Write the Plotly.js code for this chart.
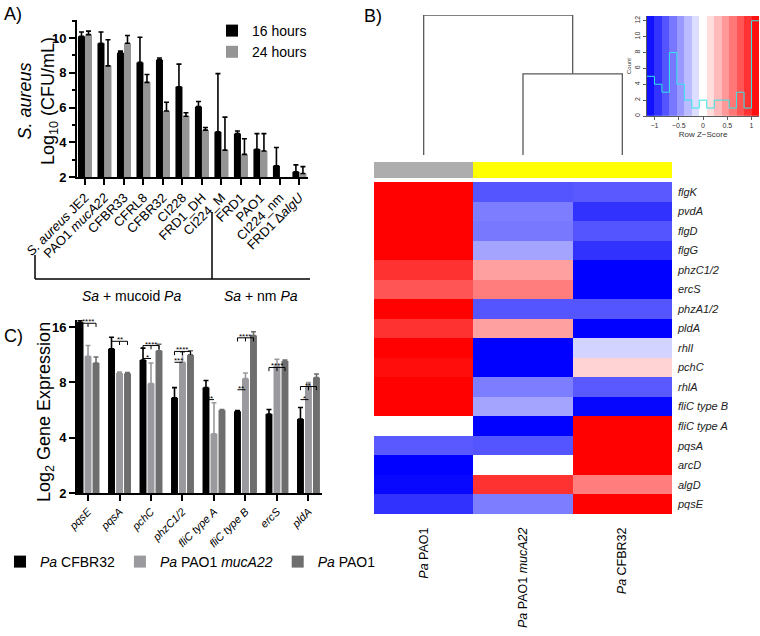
<!DOCTYPE html>
<html><head><meta charset="utf-8">
<script src="https://cdn.plot.ly/plotly-3.0.1.min.js"></script>
<style>html,body{margin:0;padding:0;background:#fff}#chart{width:760px;height:636px}</style>
</head><body><div id="chart"></div>
<script>
// ---------- Panel A: S. aureus survival ----------
const strainsA = ['<i>S. aureus</i> JE2','PAO1 <i>mucA22</i>','CFBR33','CFRL8','CFBR32','CI228','FRD1_DH','CI224_M','FRD1','PAO1','CI224_nm','FRD1 Δ<i>algU</i>'];
const cfu16h    = [10.1, 9.7, 9.15, 8.6, 8.75, 7.2, 6.05, 4.6, 4.5, 3.6, 2.65, 2.3];
const cfu16hErr = [0.25, 0.65, 0.1, 1.45, 0.1, 1.3, 0.3, 3.35, 0.15, 0.9, 1.05, 0.4];
const cfu24h    = [10.2, 8.4, 9.7, 7.45, 5.8, 5.5, 4.7, 3.55, 3.3, 3.5, null, 2.2];
const cfu24hErr = [0.2, 1.5, 0.45, 0.45, 0.5, 0.2, 0.15, 1.9, 0.9, 1.0, 0, 0.4];
const yTicksA = [2, 4, 6, 8, 10];
const yMinorA = [3, 5, 7, 9, 11];

// ---------- Panel C: gene expression ----------
const genesC = ['pqsE','pqsA','pchC','phzC1/2','fliC type A','fliC type B','ercS','pldA'];
const exprCFBR32    = [15.0, 10.2, 8.6, 4.6, 5.5, 3.57, 3.38, 3.06];
const exprCFBR32Err = [0.4, 1.9, 1.7, 0.9, 0.7, 0.05, 0.32, 0.78];
const exprMucA22    = [9.1, 7.0, 5.9, 8.3, 2.2, 6.4, 7.83, 5.66];
const exprMucA22Err = [1.6, 0.1, 2.3, 1.4, 2.0, 0.6, 0.87, 0.34];
const exprPAO1      = [8.2, 6.95, 9.9, 9.3, 3.65, 12.4, 8.45, 6.5];
const exprPAO1Err   = [0.8, 0.1, 1.0, 0.6, 0.05, 0.7, 0.15, 0.4];
const yTicksC = [2, 4, 8, 16];
// significance comparisons: group index, from bar (0=CFBR32), to bar (1=mucA22, 2=PAO1), bracket height, label
const sigGroup = [0, 1, 2, 2, 3, 3, 4, 5, 5, 6, 7, 7];
const sigTo    = [2, 2, 2, 1, 2, 1, 1, 2, 1, 2, 2, 1];
const sigLevel = [16.8, 13.4, 12.7, 10.8, 11.8, 10.3, 6.45, 14.0, 7.3, 9.65, 7.6, 6.45];
const sigLabel = ['****','**','****','*','****','***','**','****','**','****','**','*'];

// ---------- Panel B: heatmap of row z-scores ----------
const heatGenes = ['flgK','pvdA','flgD','flgG','phzC1/2','ercS','phzA1/2','pldA','rhlI','pchC','rhlA','fliC type B','fliC type A','pqsA','arcD','algD','pqsE'];
const heatCols = ['<i>Pa</i> PAO1','<i>Pa</i> PAO1 <i>mucA22</i>','<i>Pa</i> CFBR32'];
const zPAO1   = [1.15, 1.15, 1.15, 1.15, 0.93, 0.77, 1.15, 0.93, 1.15, 1.10, 1.15, 1.15, 0.0, -0.75, -1.15, -1.12, -0.93];
const zMucA22 = [-0.77, -0.59, -0.61, -0.41, 0.43, 0.59, -0.77, 0.43, -1.15, -1.15, -0.59, -0.41, -1.15, -0.77, 0.0, 0.93, -0.59];
const zCFBR32 = [-0.75, -0.93, -0.77, -0.93, -1.15, -1.15, -0.77, -1.15, -0.20, 0.20, -0.75, -1.13, 1.15, 1.15, 1.15, 0.59, 1.15];
const colGroup = [0, 1, 1];           // side colour bar: 0 = grey, 1 = yellow
const dendroLeafPos = [0, 1, 2];      // PAO1, mucA22, CFBR32
const dendroHeights = [0.58, 1.0];    // (mucA22,CFBR32) merge, root merge
// colour key histogram
const keyBreaks = [-1.155,-1.001,-0.847,-0.693,-0.539,-0.385,-0.231,-0.077,0.077,0.231,0.385,0.539,0.693,0.847,1.001,1.155];
const keyCounts = [5, 4, 3, 8, 4, 2, 1, 2, 1, 2, 2, 1, 3, 1, 12];
const keyTicks = [-1, -0.5, 0, 0.5, 1];

// ---------- helpers ----------
const W = 760, H = 636;
const px = x => x / W, py = y => 1 - y / H;
const FONT = 'Liberation Sans, Arial, Helvetica, sans-serif';
const BWR = [[0,'#0000FF'],[0.5,'#FFFFFF'],[1,'#FF0000']];

const traces = [];
// Panel A bars
traces.push({type:'bar', x:strainsA, y:cfu16h, name:'16 hours', marker:{color:'#000000'},
  width:0.36, offset:-0.36, xaxis:'x', yaxis:'y', legend:'legend',
  error_y:{type:'data', array:cfu16hErr, arrayminus:cfu16h.map(()=>0), symmetric:false, color:'#000', thickness:1.6, width:2.5}});
traces.push({type:'bar', x:strainsA, y:cfu24h, name:'24 hours', marker:{color:'#959595'},
  width:0.36, offset:0, xaxis:'x', yaxis:'y', legend:'legend',
  error_y:{type:'data', array:cfu24hErr, arrayminus:cfu24h.map(()=>0), symmetric:false, color:'#000', thickness:1.6, width:2.5}});

// Panel C bars
const cW = 0.22, cStep = 0.254;
const cSeries = [
  {name:'<i>Pa</i> CFBR32', y:exprCFBR32, e:exprCFBR32Err, c:'#000000'},
  {name:'<i>Pa</i> PAO1 <i>mucA22</i>', y:exprMucA22, e:exprMucA22Err, c:'#9a9a9e'},
  {name:'<i>Pa</i> PAO1', y:exprPAO1, e:exprPAO1Err, c:'#6e6e6e'}
];
cSeries.forEach((s, k) => {
  traces.push({type:'bar', x:genesC, y:s.y, base:2, name:s.name, marker:{color:s.c},
    width:cW, offset:(k-1)*cStep - cW/2, xaxis:'x2', yaxis:'y2', legend:'legend2',
    error_y:{type:'data', array:s.e, arrayminus:s.y.map(()=>0), symmetric:false, color:s.c, thickness:1.6, width:2.5}});
});

// Panel B heatmap
const zMat = heatGenes.map((g, r) => [zPAO1[r], zMucA22[r], zCFBR32[r]]);
traces.push({type:'heatmap', x:heatCols, y:heatGenes, z:zMat, colorscale:BWR, zmin:-1.155, zmax:1.155,
  showscale:false, xaxis:'x3', yaxis:'y3', hoverinfo:'skip'});
traces.push({type:'heatmap', x:heatCols, y:['group'], z:[colGroup], colorscale:[[0,'#ADADAD'],[1,'#FFFF00']],
  zmin:0, zmax:1, showscale:false, xaxis:'x3', yaxis:'y4', hoverinfo:'skip'});
// dendrogram
const [hLow, hRoot] = dendroHeights;
const [l0, l1, l2] = dendroLeafPos;
const mid12 = (l1 + l2) / 2;
traces.push({type:'scatter', mode:'lines', xaxis:'x5', yaxis:'y5', showlegend:false, hoverinfo:'skip',
  x:[l1, l1, l2, l2, null, l0, l0, mid12, mid12],
  y:[0, hLow, hLow, 0, null, 0, hRoot, hRoot, hLow],
  line:{color:'#5a5a5a', width:1.3}});
// colour key
const keyCenters = keyBreaks.slice(0, -1).map((b, i) => (b + keyBreaks[i+1]) / 2);
traces.push({type:'heatmap', x:keyBreaks, y:[0, 13], z:[keyCenters], colorscale:BWR, zmin:-1.155, zmax:1.155,
  showscale:false, xaxis:'x6', yaxis:'y6', hoverinfo:'skip'});
traces.push({type:'scatter', mode:'lines', x:keyBreaks, y:keyCounts.concat([keyCounts[keyCounts.length-1]]),
  line:{shape:'hv', color:'#33E6E6', width:1}, xaxis:'x6', yaxis:'y6', showlegend:false, hoverinfo:'skip'});

// significance brackets (panel C)
const shapes = [], annotations = [];
const tickDrop = 0.955;
sigGroup.forEach((g, i) => {
  const x0 = g - cStep, x1 = g + (sigTo[i] - 1) * cStep, yv = sigLevel[i];
  const ln = {color:'#000', width:1};
  shapes.push({type:'line', xref:'x2', yref:'y2', x0:x0, x1:x1, y0:yv, y1:yv, line:ln});
  if (sigTo[i] === 2) {
    [x0, g, x1].forEach(xx => shapes.push({type:'line', xref:'x2', yref:'y2', x0:xx, x1:xx, y0:yv, y1:yv*tickDrop, line:ln}));
  }
  annotations.push({xref:'x2', yref:'y2', x:(x0+x1)/2, y:Math.log10(yv), xanchor:'center', text:sigLabel[i], showarrow:false,
    yanchor:'bottom', yshift:-5, font:{size:8, color:'#000'}});
});

// Panel A group brackets
const blk = {color:'#000', width:1.5};
shapes.push({type:'line', xref:'paper', yref:'paper', x0:px(35), x1:px(35), y0:py(255), y1:py(279), line:blk});
shapes.push({type:'line', xref:'paper', yref:'paper', x0:px(35), x1:px(310), y0:py(279), y1:py(279), line:blk});
shapes.push({type:'line', xref:'paper', yref:'paper', x0:px(212), x1:px(212), y0:py(212), y1:py(279), line:blk});
annotations.push({xref:'paper', yref:'paper', x:px(131), y:py(296), xanchor:'center', yanchor:'middle', text:'<i>Sa</i> + mucoid <i>Pa</i>', showarrow:false, font:{size:14}});
annotations.push({xref:'paper', yref:'paper', x:px(261), y:py(296), xanchor:'center', yanchor:'middle', text:'<i>Sa</i> + nm <i>Pa</i>', showarrow:false, font:{size:14}});
// axis titles for A and C (placed as rotated text)
annotations.push({xref:'paper', yref:'paper', x:px(38), y:py(101), xanchor:'center', yanchor:'middle', textangle:-90,
  text:'<i>S. aureus</i><br>Log<sub>10</sub> (CFU/mL)', showarrow:false, font:{size:18}});
annotations.push({xref:'paper', yref:'paper', x:px(45), y:py(412), xanchor:'center', yanchor:'middle', textangle:-90,
  text:'Log<sub>2</sub> Gene Expression', showarrow:false, font:{size:18}});
// panel letters
[['A)', 2, 14], ['B)', 362, 16], ['C)', 2, 336]].forEach(([t, x, y]) =>
  annotations.push({xref:'paper', yref:'paper', x:px(x), y:py(y), xanchor:'left', yanchor:'middle', text:t, showarrow:false, font:{size:18}}));

const axBase = {showgrid:false, zeroline:false, showline:true, linecolor:'#000', linewidth:2, ticks:'outside', ticklen:6, tickwidth:2, tickcolor:'#000'};
const layout = {
  width:W, height:H, margin:{l:0, r:0, t:0, b:0}, paper_bgcolor:'#fff', plot_bgcolor:'rgba(0,0,0,0)',
  font:{family:FONT, color:'#000', size:12}, barmode:'overlay',
  xaxis:Object.assign({}, axBase, {domain:[px(77), px(308)], anchor:'y', range:[-0.41, 11.44], tickangle:-45, tickfont:{size:13}}),
  yaxis:Object.assign({}, axBase, {domain:[py(177), py(20)], anchor:'x', range:[2, 11.04], tickmode:'array', tickvals:yTicksA,
    tickfont:{size:13, weight:'bold'}, minor:{tickmode:'array', tickvals:yMinorA, ticks:'outside', ticklen:3, tickwidth:2, tickcolor:'#000', showgrid:false}}),
  xaxis2:Object.assign({}, axBase, {domain:[px(77), px(322)], anchor:'y2', range:[-0.35, 7.43], tickangle:-45,
    tickmode:'array', tickvals:genesC, ticktext:genesC.map(g => '<i>' + g + '</i>'), tickfont:{size:11}}),
  yaxis2:Object.assign({}, axBase, {domain:[py(493), py(320)], anchor:'x2', type:'log', range:[Math.log10(2), Math.log10(17.5)],
    tickmode:'array', tickvals:yTicksC, ticktext:yTicksC.map(String), tickfont:{size:13, weight:'bold'}}),
  xaxis3:{domain:[px(374), px(672)], anchor:'y3', showgrid:false, zeroline:false, showline:false, ticks:'',
    tickangle:-90, tickfont:{size:12.5}, ticklabelstandoff:10},
  yaxis3:{domain:[py(514), py(182)], anchor:'x3', side:'right', autorange:'reversed', showgrid:false, zeroline:false,
    showline:false, ticks:'', tickmode:'array', tickvals:heatGenes, ticktext:heatGenes.map(g => '<i>' + g + '</i>'),
    tickfont:{size:11, color:'#222'}, ticklabelstandoff:5},
  yaxis4:{domain:[py(178), py(162)], anchor:'x3', showticklabels:false, showgrid:false, zeroline:false, showline:false, ticks:''},
  xaxis5:{domain:[px(374), px(672)], anchor:'y5', range:[-0.5, 2.5], visible:false},
  yaxis5:{domain:[py(155), py(15)], anchor:'x5', range:[0, 1], visible:false},
  xaxis6:{domain:[px(647), px(759)], anchor:'y6', range:[-1.155, 1.155], showgrid:false, zeroline:false, showline:true,
    linecolor:'#333', linewidth:0.8, ticks:'outside', ticklen:3, tickwidth:0.8, tickcolor:'#333', tickmode:'array',
    tickvals:keyTicks, ticktext:keyTicks.map(v => v < 0 ? '−' + Math.abs(v) : String(v)), tickfont:{size:7, color:'#333'},
    title:{text:'Row Z−Score', font:{size:8, color:'#333'}, standoff:3}},
  yaxis6:{domain:[py(116), py(16)], anchor:'x6', range:[0, 12.6], showgrid:false, zeroline:false, showline:true,
    linecolor:'#333', linewidth:0.8, ticks:'outside', ticklen:3, tickwidth:0.8, tickcolor:'#333', tickmode:'array',
    tickvals:[0,2,4,6,8,10,12], tickangle:-90, tickfont:{size:7, color:'#333'},
    title:{text:'Count', font:{size:6, color:'#333'}, standoff:2}},
  legend:{x:px(212), y:py(15), xanchor:'left', yanchor:'top', font:{size:14}, bgcolor:'rgba(0,0,0,0)', tracegroupgap:2},
  legend2:{orientation:'h', x:px(0), y:py(546), xanchor:'left', yanchor:'top', font:{size:14}, bgcolor:'rgba(0,0,0,0)'},
  shapes:shapes, annotations:annotations
};
Plotly.newPlot('chart', traces, layout, {staticPlot:true, displayModeBar:false});
</script>
</body></html>
